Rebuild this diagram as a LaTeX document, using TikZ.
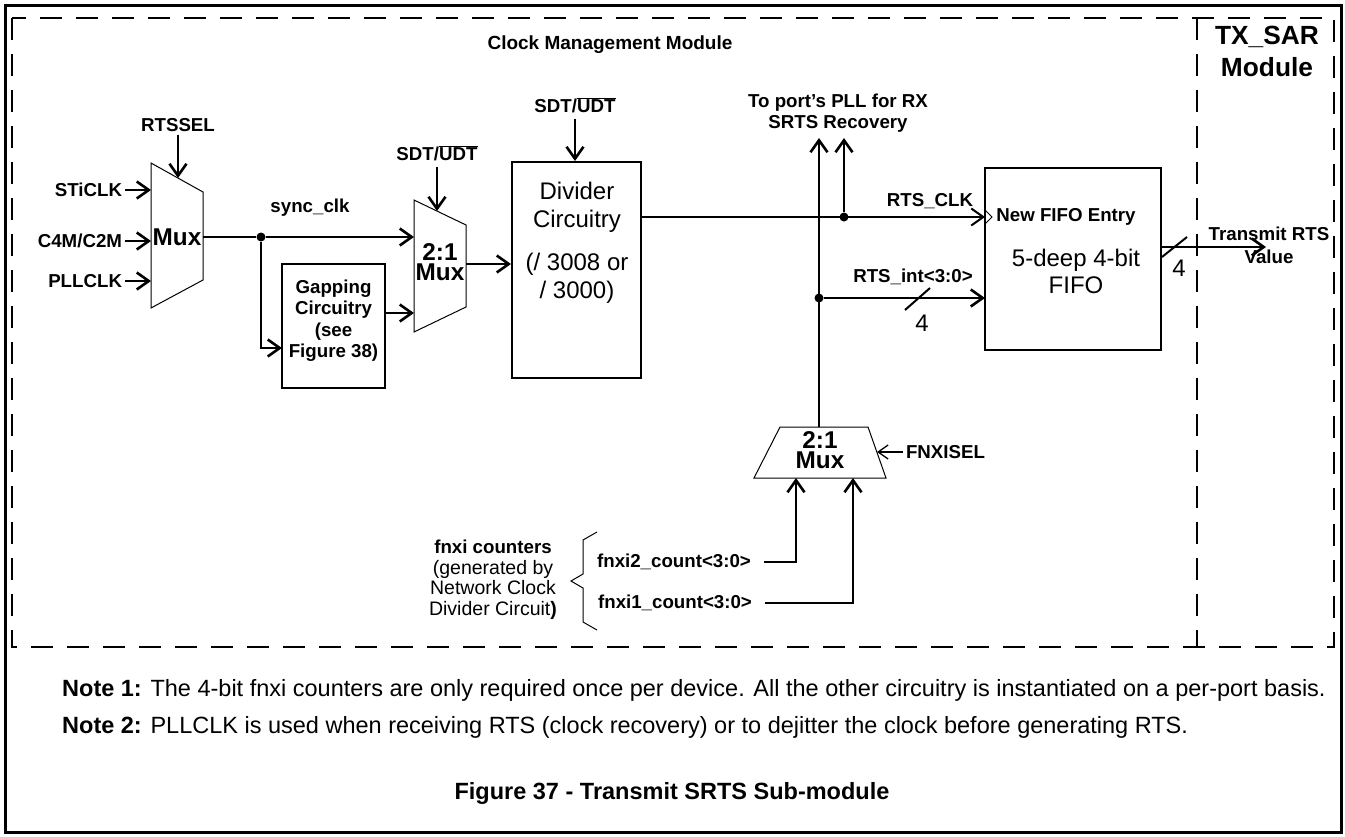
\documentclass[tikz,border=0pt]{standalone}
\usepackage{fontspec}
\setmainfont{Liberation Sans}
\usetikzlibrary{arrows.meta}

\begin{document}
\begin{tikzpicture}[x=1pt, y=-1pt,
    lbl/.style={font=\fontsize{18.7}{21.5}\selectfont\bfseries, inner sep=0pt,
                outer sep=3pt, align=center},
    txt/.style={font=\fontsize{24}{28.5}\selectfont, inner sep=0pt, align=center},
    muxtxt/.style={font=\fontsize{24.3}{20.5}\selectfont\bfseries, inner sep=0pt, align=center},
    notetxt/.style={font=\fontsize{23.5}{27}\selectfont, inner sep=0pt},
    box/.style={draw, line width=2pt, inner sep=0pt},
    mux/.style={draw, line width=1pt},
    wire/.style={line width=2.6pt},
    arr/.style={-{Straight Barb[length=12pt,width=17pt]}, line width=2.6pt},
    thinarr/.style={-{Straight Barb[length=10pt,width=14pt]}, line width=1.3pt},
    dot/.style={circle, fill, inner sep=0pt, minimum size=9pt},
    frame/.style={dash pattern=on 22pt off 14pt, line width=2pt}
  ]
  \useasboundingbox (0,0) rectangle (1345,836);
  \draw[line width=3pt] (5,5) rectangle (1341,832);
  \draw[frame] (12,18) rectangle (1334,647);
  \draw[frame] (1197,18) -- (1197,647);

  \node[lbl, font=\fontsize{19}{22}\selectfont\bfseries] (cmmtitle) at (610,45) {Clock Management Module};
  \node[lbl, font=\fontsize{26.3}{32}\selectfont\bfseries] (sartitle) at (1267,51) {TX\_SAR\\Module};

  % input mux
  \draw[mux] (151,163) -- (203,192) -- (203,280) -- (151,308) -- cycle;
  \node[muxtxt] (muxa) at (177,237) {Mux};
  \coordinate (muxa-l) at (151,237);
  \coordinate (muxa-sel) at (178,178);
  \coordinate (muxa-out) at (203,237);
  \node[lbl] (rtssel) at (178,125) {RTSSEL};
  \node[lbl, anchor=east] (sticlk) at (125,190) {STiCLK};
  \node[lbl, anchor=east] (c4m) at (125,241) {C4M/C2M};
  \node[lbl, anchor=east] (pllclk) at (125,281) {PLLCLK};

  % gapping + 2:1 mux
  \node[box, minimum width=103pt, minimum height=124pt] (gap) at (333.5,326) {};
  \node[lbl] (gaptxt) at (333.5,320.5) {Gapping\\Circuitry\\(see\\Figure 38)};
  \coordinate (gap-in) at (282,348);
  \coordinate (gap-out) at (385,313);
  \draw[mux] (414,200) -- (466,225) -- (466,307) -- (414,332) -- cycle;
  \node[muxtxt] (muxb) at (440,262) {2:1\\Mux};
  \coordinate (muxb-in1) at (414,237);
  \coordinate (muxb-in2) at (414,313);
  \coordinate (muxb-sel) at (437,211);
  \coordinate (muxb-out) at (466,264);
  \node[lbl, outer sep=6pt] (sdta) at (437,153) {SDT/$\overline{\hbox{UDT}}$};
  \node[lbl] (syncclk) at (310,208) {sync\_clk};
  \node[dot] (ja) at (261,237) {};

  % divider
  \node[box, minimum width=129pt, minimum height=216pt] (div) at (576.5,270) {};
  \node[txt] (divtxt) at (577,243) {Divider\\Circuitry\\[14pt](/ 3008 or\\/ 3000)};
  \node[lbl, outer sep=6pt] (sdtb) at (575,105) {SDT/$\overline{\hbox{UDT}}$};
  \coordinate (div-out) at (641,217);

  % fifo
  \node[box, minimum width=176pt, minimum height=182pt] (fifo) at (1073,259) {};
  \draw[line width=0.8pt] (985,210) -- (992,217) -- (985,224);
  \node[lbl, outer sep=0pt] (fifoclk) at (1066,217) {New FIFO Entry};
  \node[txt, font=\fontsize{24}{27}\selectfont] (fifotxt) at (1076,271) {5-deep 4-bit\\FIFO};
  \coordinate (fifo-clk) at (985,217);
  \coordinate (fifo-d) at (985,298);
  \coordinate (fifo-out) at (1161,247);
  \coordinate (txrts) at (1266,247);

  \node[dot] (jb) at (844,217) {};
  \node[dot] (jc) at (819,298) {};
  \coordinate (upa) at (819,138);
  \coordinate (upb) at (844,138);
  \node[lbl] (topll) at (838,113) {To port's PLL for RX\\SRTS Recovery};
  \node[lbl] (rtsclk) at (930,201) {RTS\_CLK};
  \node[lbl] (rtsint) at (913,277) {RTS\_int<3:0>};
  \node[txt] (busa) at (922,323) {4};
  \node[txt] (busb) at (1179,268) {4};

  % fnxi mux
  \draw[mux] (780,427) -- (868,427) -- (886,478) -- (754,478) -- cycle;
  \node[muxtxt] (muxc) at (820,450) {2:1\\Mux};
  \coordinate (muxc-out) at (819,427);
  \coordinate (muxc-in1) at (796,478);
  \coordinate (muxc-in2) at (853,478);
  \coordinate (muxc-sel) at (877,452);
  \node[lbl, anchor=west] (fnxisel) at (903,452) {FNXISEL};
  \node[lbl] (fnxitwo) at (674,562) {fnxi2\_count<3:0>};
  \node[lbl] (fnxione) at (675,603) {fnxi1\_count<3:0>};
  \draw[line width=1pt] (597,532) -- (583,540) -- (583,574) -- (571,581)
    -- (583,588) -- (583,622) -- (597,630);
  \node[lbl] (fnxicnt) at (493,547) {fnxi counters};
  \node[txt, font=\fontsize{19.5}{20.5}\selectfont] (fnxigen) at (493,589.5)
    {(generated by\\Network Clock\\Divider Circuit\textbf{)}};

  \draw[arr] (rtssel) -- (muxa-sel);
  \foreach \s in {sticlk, c4m, pllclk}
    \draw[arr] (\s) -- (\s -| muxa-l);
  \draw[wire] (muxa-out) -- (ja);
  \draw[arr] (ja) -- (muxb-in1);
  \draw[arr] (ja) |- (gap-in);
  \draw[arr] (gap-out) -- (muxb-in2);
  \draw[arr] (sdta) -- (muxb-sel);
  \draw[arr] (muxb-out) -- (muxb-out -| div.west);
  \draw[arr] (sdtb) -- (sdtb |- div.north);
  \draw[arr, line width=2pt] (div-out) -- (fifo-clk);
  \draw[arr] (jb) -- (upb);
  \draw[arr] (muxc-out) -- (upa);
  \draw[arr] (jc) -- (fifo-d);
  \draw[line width=2pt] (905,310) -- (930,288);
  \draw[arr] (fifo-out) -- (txrts);
  \draw[line width=2pt] (1162,257) -- (1187,237);
  \draw[thinarr] (fnxisel) -- (muxc-sel);
  \draw[arr, shorten <=10pt] (fnxitwo) -| (muxc-in1);
  \draw[arr, shorten <=10pt] (fnxione) -| (muxc-in2);
  \node[lbl, font=\fontsize{18.7}{23}\selectfont\bfseries] (txval) at (1269,245) {Transmit RTS\\Value};

  \node[notetxt, anchor=west] (noteone) at (62,690)
    {\textbf{Note 1:} The 4-bit fnxi counters are only required once per device. All the other circuitry is instantiated on a per-port basis.};
  \node[notetxt, anchor=west] (notetwo) at (62,727)
    {\textbf{Note 2:} PLLCLK is used when receiving RTS (clock recovery) or to dejitter the clock before generating RTS.};
  \node[notetxt, font=\fontsize{23.5}{27}\selectfont\bfseries] (figtitle) at (672,793) {Figure 37 - Transmit SRTS Sub-module};
\end{tikzpicture}
\end{document}
